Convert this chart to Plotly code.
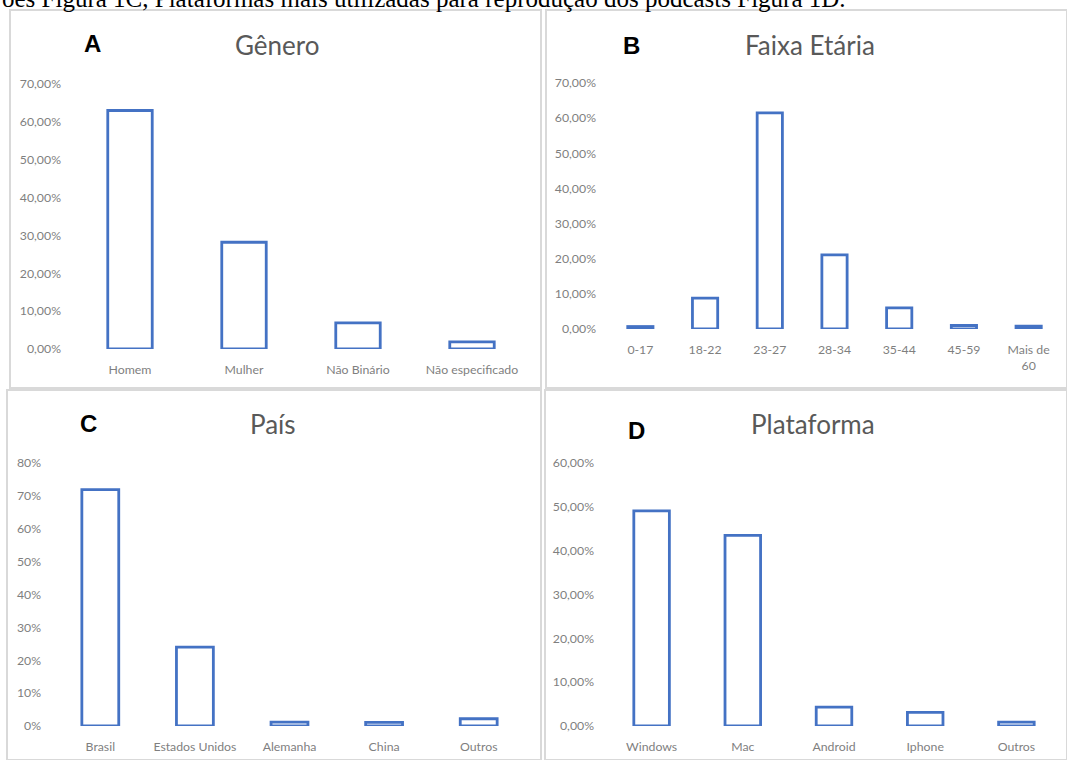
import plotly.graph_objects as go

W, H = 1067, 760

# ---- data ----
genero_cats = ["Homem", "Mulher", "Não Binário", "Não especificado"]
genero_vals = [63.0, 28.2, 6.9, 1.9]

idade_cats = ["0-17", "18-22", "23-27", "28-34", "35-44", "45-59", "Mais de<br>60"]
idade_vals = [0.7, 8.8, 61.5, 21.1, 6.0, 1.0, 0.8]

pais_cats = ["Brasil", "Estados Unidos", "Alemanha", "China", "Outros"]
pais_vals = [71.9, 24.0, 1.2, 1.1, 2.2]

plat_cats = ["Windows", "Mac", "Android", "Iphone", "Outros"]
plat_vals = [49.1, 43.5, 4.3, 3.1, 0.9]

BLUE = "#4472C4"
GRAY = "#7f7f7f"
FONT = "Lato"


def px_x(x):
    return x / W


def px_y(y):
    return 1 - y / H


fig = go.Figure()

panels = [
    # cats, vals, x-left, x-right, y-zero, y-top, ymax, dtick, fmt
    (genero_cats, genero_vals, 73, 529, 349, 84, 70, 10, ".2f"),
    (idade_cats, idade_vals, 608, 1061, 329, 83, 70, 10, ".2f"),
    (pais_cats, pais_vals, 53, 526, 726, 463, 80, 10, "d"),
    (plat_cats, plat_vals, 606, 1062, 726, 463, 60, 10, ".2f"),
]

layout_axes = {}
for i, (cats, vals, xl, xr, y0, y1, ymax, dt, fmt) in enumerate(panels, start=1):
    sfx = "" if i == 1 else str(i)
    fig.add_trace(go.Bar(
        x=cats, y=vals,
        xaxis="x" + sfx, yaxis="y" + sfx,
        marker=dict(color="white", line=dict(color=BLUE, width=2.8)),
        width=0.39, showlegend=False, hoverinfo="x+y",
    ))
    layout_axes["xaxis" + sfx] = dict(
        domain=[px_x(xl), px_x(xr)], anchor="y" + sfx,
        showgrid=False, zeroline=False, showline=False,
        tickfont=dict(family=FONT, size=12.3, color=GRAY),
        ticklabelstandoff=12, fixedrange=True, automargin=False,
    )
    layout_axes["yaxis" + sfx] = dict(
        domain=[px_y(y0), px_y(y1)], anchor="x" + sfx,
        range=[0, ymax], dtick=dt, tick0=0,
        tickformat=fmt, ticksuffix="%",
        showgrid=False, zeroline=False, showline=False,
        tickfont=dict(family=FONT, size=12.3, color=GRAY),
        ticklabelstandoff=11, fixedrange=True, automargin=False,
    )

# panel borders
borders = [(10, 10, 541, 388), (546, 10, 1067, 388), (7, 390, 541, 760), (545, 390, 1067, 760)]
shapes = []
for (x0, y0, x1, y1) in borders:
    shapes.append(dict(type="rect", xref="paper", yref="paper",
                       x0=px_x(x0), x1=px_x(x1), y0=px_y(y1), y1=px_y(y0),
                       line=dict(color="#d9d9d9", width=2), fillcolor="rgba(0,0,0,0)"))

annotations = []
titles = [("Gênero", 277, 45), ("Faixa Etária", 810, 45), ("País", 273, 424), ("Plataforma", 813, 424)]
for t, x, y in titles:
    annotations.append(dict(text=t, x=px_x(x), y=px_y(y), xref="paper", yref="paper",
                            xanchor="center", yanchor="middle", showarrow=False,
                            font=dict(family=FONT, size=26, color="#595959")))
letters = [("A", 92, 44), ("B", 631, 45), ("C", 88, 424), ("D", 636, 430)]
for t, x, y in letters:
    annotations.append(dict(text="<b>" + t + "</b>", x=px_x(x), y=px_y(y), xref="paper", yref="paper",
                            xanchor="center", yanchor="middle", showarrow=False,
                            font=dict(family="Liberation Sans", size=24, color="black")))

annotations.append(dict(
    text="ões Figura 1C, Plataformas mais utilizadas para reprodução dos podcasts Figura 1D.",
    x=0, y=px_y(14), xref="paper", yref="paper", xanchor="left", yanchor="bottom",
    showarrow=False, font=dict(family="Liberation Serif", size=25, color="black")))

fig.update_layout(
    width=W, height=H, margin=dict(l=0, r=0, t=0, b=0, autoexpand=False),
    autosize=False,
    paper_bgcolor="white", plot_bgcolor="white",
    separators=",.", bargap=0.61,
    shapes=shapes, annotations=annotations,
    **layout_axes,
)

fig.write_html(
    "out.html",
    config={"responsive": False, "displayModeBar": False},
    post_script="document.body.style.margin='0';document.body.style.padding='0';document.body.style.overflow='hidden';",
)
